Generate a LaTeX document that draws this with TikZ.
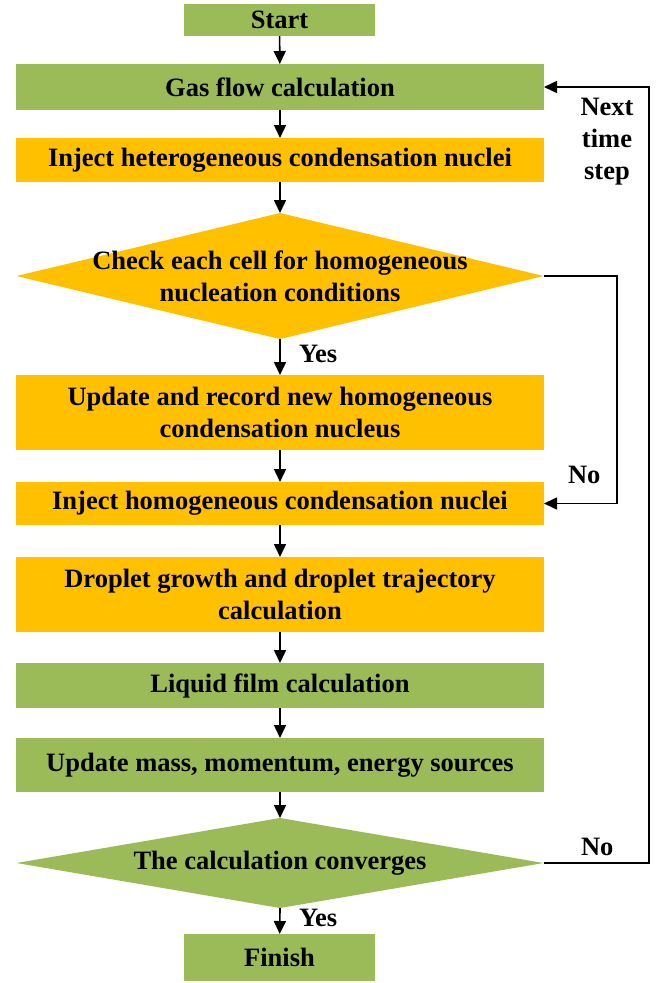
\documentclass[tikz,border=0pt]{standalone}
\usepackage{fontspec}
\setmainfont{Liberation Serif}
\usetikzlibrary{shapes.geometric,arrows.meta}
\definecolor{cgreen}{HTML}{9BBB59}
\definecolor{corange}{HTML}{FFC000}
\begin{document}
\begin{tikzpicture}[x=1pt,y=-1pt,
  every node/.style={font=\fontsize{26.5}{32}\selectfont\bfseries, outer sep=0pt},
  box/.style={rectangle,inner sep=0pt,align=center,minimum width=528pt},
  gbox/.style={box,fill=cgreen},
  obox/.style={box,fill=corange},
  dia/.style={diamond,inner sep=0pt,minimum width=527pt},
  arr/.style={line width=1.6pt,-{Triangle[length=13pt,width=12pt]}},
  lbl/.style={inner sep=0pt,anchor=base west}]
\useasboundingbox (0,0) rectangle (667,983);
\node[gbox,minimum width=191pt,minimum height=32pt] (start) at (279.5,20) {Start};
\node[gbox,minimum height=46pt] (gas) at (280,87) {Gas flow calculation};
\node[obox,minimum height=44pt] (het) at (280,160) {Inject heterogeneous condensation nuclei};
\node[dia,fill=corange,minimum height=126pt] (d1) at (280,276) {};
\node[align=center,inner sep=0pt] (d1t) at (d1) {Check each cell for homogeneous\\nucleation conditions};
\node[obox,minimum height=75pt] (upd) at (280,412.5) {Update and record new homogeneous\\condensation nucleus};
\node[obox,minimum height=43pt] (homo) at (280,503.5) {Inject homogeneous condensation nuclei};
\node[obox,minimum height=75pt] (drop) at (280,594.5) {Droplet growth and droplet trajectory\\calculation};
\node[gbox,minimum height=45pt] (film) at (280,685.5) {Liquid film calculation};
\node[gbox,minimum height=54pt] (mass) at (280,765) {Update mass, momentum, energy sources};
\node[dia,fill=cgreen,minimum height=90pt] (d2) at (280,863) {};
\node[inner sep=0pt] (d2t) at (d2) {The calculation converges};
\node[gbox,minimum width=191pt,minimum height=47pt] (fin) at (279.5,957.5) {Finish};

\draw[arr] (start) -- (gas);
\draw[arr] (gas) -- (het);
\draw[arr] (het) -- (d1.north);
\draw[arr] (d1.south) -- (upd);
\draw[arr] (upd) -- (homo);
\draw[arr] (homo) -- (drop);
\draw[arr] (drop) -- (film);
\draw[arr] (film) -- (mass);
\draw[arr] (mass) -- (d2.north);
\draw[arr] (d2.south) -- (fin);

\coordinate (n1) at (617,276);
\coordinate (n2) at (649,863);
\draw[arr] (d1.east) -- (n1) |- (homo.east);
\draw[arr] (d2.east) -- (n2) |- (gas.east);

\node[lbl] (yes1) at (299,362) {Yes};
\node[lbl] (yes2) at (299,926) {Yes};
\node[lbl] (no1) at (568,483) {No};
\node[lbl] (no2) at (581,855) {No};
\node[align=center,inner sep=0pt,anchor=north] (nts) at (607,98) {Next\\time\\step};
\end{tikzpicture}
\end{document}
